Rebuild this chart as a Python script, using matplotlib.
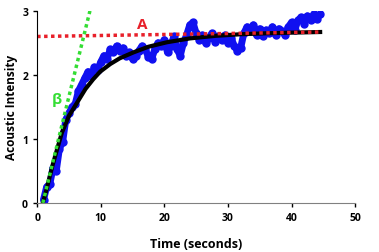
import numpy as np
import matplotlib.pyplot as plt

plt.rcParams['font.family'] = ['Open Sans', 'DejaVu Sans']
plt.rcParams['font.weight'] = 'bold'

# measured acoustic intensity, sampled every 0.5 s from t = 1.0 s
intensity = [0.05, 0.25, 0.30, 0.55, 0.50, 0.85, 0.95, 1.30, 1.40, 1.50,
             1.55, 1.75, 1.85, 1.95, 2.05, 1.98, 2.12, 2.08, 2.20, 2.30,
             2.25, 2.40, 2.35, 2.45, 2.38, 2.42, 2.30, 2.35, 2.25, 2.30,
             2.38, 2.45, 2.40, 2.28, 2.25, 2.40, 2.50, 2.45, 2.55, 2.35,
             2.45, 2.60, 2.40, 2.30, 2.50, 2.62, 2.78, 2.82, 2.65, 2.55,
             2.62, 2.50, 2.58, 2.65, 2.52, 2.60, 2.55, 2.62, 2.50, 2.58,
             2.45, 2.38, 2.42, 2.65, 2.75, 2.68, 2.78, 2.62, 2.72, 2.60,
             2.70, 2.65, 2.75, 2.62, 2.72, 2.68, 2.62, 2.75, 2.82, 2.70,
             2.85, 2.90, 2.80, 2.92, 2.85, 2.95, 2.88, 2.95]
t0 = 1.0
dt = 0.5

# fitted curve
fit_t = [0.9, 1.5, 2.4, 3.2, 3.9, 5.0, 6.3, 7.6, 8.8, 9.9, 11.5, 13, 15.1,
         17.5, 20.4, 24, 28, 32, 36, 40, 44.5]
fit_y = [0, 0.22, 0.58, 0.86, 1.10, 1.36, 1.57, 1.78, 1.93, 2.05, 2.17,
         2.26, 2.35, 2.44, 2.51, 2.57, 2.61, 2.635, 2.65, 2.66, 2.67]

# plateau A and initial slope beta
a_t = [0, 44.5]
a_y = [2.60, 2.67]
b_t = [0.9, 8.3]
b_y = [0, 3]

t = t0 + dt * np.arange(len(intensity))

fig = plt.figure(figsize=(3.79, 2.53), dpi=100)
ax = fig.add_axes([0.098, 0.194, 0.839, 0.759])

ax.plot(t, intensity, color='#1010f0', lw=5, marker='o', ms=5,
        solid_capstyle='round', solid_joinstyle='round')
ax.plot(fit_t, fit_y, color='black', lw=3)
ax.plot(a_t, a_y, color='#e8202a', lw=2.5, linestyle=(0, (1, 1)))
ax.plot(b_t, b_y, color='#33dd33', lw=2.5, linestyle=(0, (1, 1)))

ax.text(16.5, 2.8, 'A', color='#e8202a', fontsize=11, fontweight='bold',
        ha='center', va='center')
ax.text(3.1, 1.63, 'β', color='#33dd33', fontsize=11, fontweight='bold',
        ha='center', va='center')

ax.set_xlim(0, 50)
ax.set_ylim(0, 3)
ax.set_xticks([0, 10, 20, 30, 40, 50])
ax.set_yticks([0, 1, 2, 3])
ax.tick_params(labelsize=7.5, length=3, width=1, direction='out')
for lab in ax.get_xticklabels() + ax.get_yticklabels():
    lab.set_fontweight('bold')
ax.spines['top'].set_visible(False)
ax.spines['right'].set_visible(False)
ax.spines['bottom'].set_color('#808080')
ax.spines['left'].set_color('black')
ax.set_xlabel('Time (seconds)', fontsize=9, fontweight='bold', labelpad=10)
ax.set_ylabel('Acoustic Intensity', fontsize=8.5, fontweight='bold', labelpad=3)

fig.savefig('out.png', dpi=100)
